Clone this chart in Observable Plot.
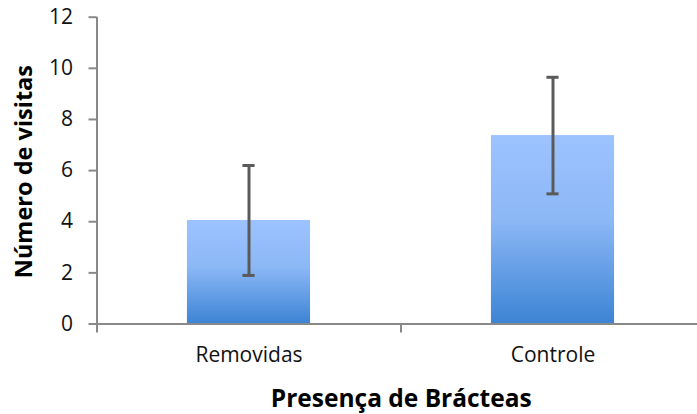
<!DOCTYPE html>
<html>
<head>
<meta charset="utf-8">
<script src="https://cdn.jsdelivr.net/npm/d3@7"></script>
<script src="https://cdn.jsdelivr.net/npm/@observablehq/plot@0.6"></script>
<style>
  html, body { margin: 0; padding: 0; background: #fff; }
  #chart svg { display: block; }
</style>
</head>
<body>
<div id="chart"></div>
<script>
// Data
const categories = ["Removidas", "Controle"];
const means = [4.05, 7.37];
const errors = [2.15, 2.28];
const yTicks = [0, 2, 4, 6, 8, 10, 12];
const xLabel = "Presença de Brácteas";
const yLabel = "Número de visitas";

const data = categories.map((c, i) => ({
  c, i, mean: means[i], lo: means[i] - errors[i], hi: means[i] + errors[i]
}));

const barHalf = 0.2025;   // half bar width in category-step units
const capHalf = 0.02;     // half cap width in category-step units
const axisColor = "#898989";
const errColor = "#5a5a5a";
const font = "'Open Sans', sans-serif";

const defsMark = () => {
  const defs = d3.create("svg:defs");
  const lg = defs.append("linearGradient")
    .attr("id", "barGrad").attr("x1", 0).attr("y1", 0).attr("x2", 0).attr("y2", 1);
  lg.append("stop").attr("offset", "0%").attr("stop-color", "#9cc3fe");
  lg.append("stop").attr("offset", "45%").attr("stop-color", "#8cb8f6");
  lg.append("stop").attr("offset", "100%").attr("stop-color", "#3c84d4");
  const f = defs.append("filter").attr("id", "shadow")
    .attr("x", "-10%").attr("y", "-10%").attr("width", "120%").attr("height", "120%");
  f.append("feDropShadow").attr("dx", 0).attr("dy", 0)
    .attr("stdDeviation", 2.2).attr("flood-color", "#000").attr("flood-opacity", 0.22);
  return defs.node();
};

const chart = Plot.plot({
  width: 697,
  height: 414,
  marginLeft: 96.5,
  marginRight: 0,
  marginTop: 16.7,
  marginBottom: 90.5,
  style: { fontFamily: font, background: "#fff", overflow: "hidden" },
  x: { type: "linear", domain: [0, categories.length], range: [96.5, 704.5] },
  y: { domain: [0, 12] },
  marks: [
    defsMark,
    Plot.rectY(data, {
      x1: d => d.i + 0.5 - barHalf,
      x2: d => d.i + 0.5 + barHalf,
      y: "mean",
      fill: "url(#barGrad)"
    }),
    // x axis line
    Plot.ruleY([0], { x1: 0, x2: categories.length, stroke: axisColor, strokeWidth: 2 }),
    // y axis line (extends slightly below zero)
    Plot.ruleX([0], { y1: 12, y2: 0, insetBottom: -9, stroke: axisColor, strokeWidth: 2 }),
    // category boundary ticks
    Plot.axisX({
      ticks: d3.range(1, categories.length),
      tickSize: 9, tickFormat: () => "",
      stroke: axisColor, strokeWidth: 2, label: null
    }),
    // category labels
    Plot.axisX({
      ticks: categories.map((c, i) => i + 0.5),
      tickSize: 0, tickPadding: 23,
      tickFormat: d => categories[Math.floor(d)],
      fontSize: 21, fill: "#111", label: null
    }),
    Plot.axisY({
      ticks: yTicks, tickSize: 8, tickPadding: 16,
      tickFormat: d => String(d),
      fontSize: 21, fill: "#111", stroke: axisColor, strokeWidth: 2, label: null
    }),
    // error bars
    Plot.ruleX(data, { x: d => d.i + 0.5, y1: "lo", y2: "hi", stroke: errColor, strokeWidth: 3 }),
    Plot.ruleY(data, { y: "hi", x1: d => d.i + 0.5 - capHalf, x2: d => d.i + 0.5 + capHalf, stroke: errColor, strokeWidth: 3 }),
    Plot.ruleY(data, { y: "lo", x1: d => d.i + 0.5 - capHalf, x2: d => d.i + 0.5 + capHalf, stroke: errColor, strokeWidth: 3 }),
    // axis titles
    Plot.text([xLabel], {
      frameAnchor: "bottom", dy: 75, dx: 4, fontSize: 24.5, fontWeight: "bold", fill: "#000",
      lineAnchor: "middle", textAnchor: "middle"
    }),
    Plot.text([yLabel], {
      frameAnchor: "left", rotate: -90, dx: -73, dy: 1, fontSize: 23.5, fontWeight: "bold",
      fill: "#000", lineAnchor: "middle", textAnchor: "middle"
    })
  ]
});

// soft shadow on bars
d3.select(chart).selectAll("rect").attr("filter", function() {
  return d3.select(this).attr("fill") === "url(#barGrad)" ? "url(#shadow)" : null;
});

document.getElementById("chart").appendChild(chart);
</script>
</body>
</html>
